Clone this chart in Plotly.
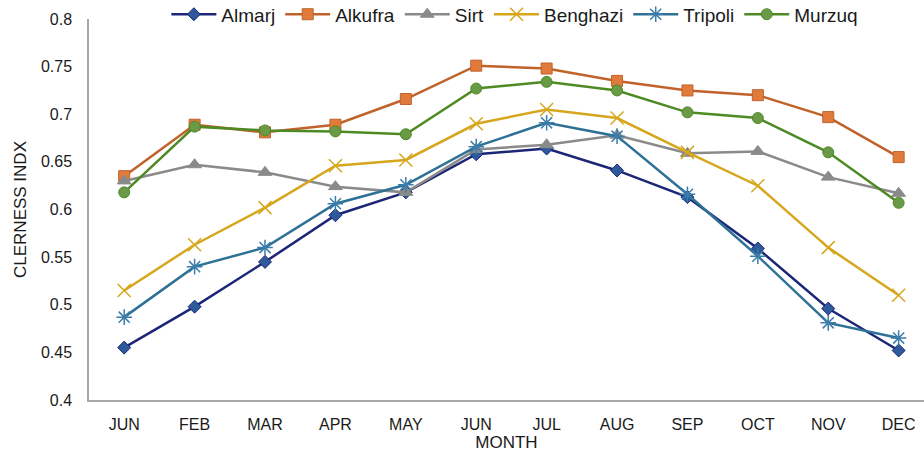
import plotly.graph_objects as go

months = ["JUN", "FEB", "MAR", "APR", "MAY", "JUN", "JUL", "AUG", "SEP", "OCT", "NOV", "DEC"]
x_pos = list(range(len(months)))

almarj = [0.455, 0.498, 0.545, 0.594, 0.618, 0.658, 0.664, 0.641, 0.613, 0.559, 0.496, 0.452]
alkufra = [0.635, 0.689, 0.681, 0.689, 0.716, 0.751, 0.748, 0.735, 0.725, 0.720, 0.697, 0.655]
sirt = [0.630, 0.647, 0.639, 0.624, 0.618, 0.663, 0.668, 0.678, 0.659, 0.661, 0.634, 0.617]
benghazi = [0.515, 0.563, 0.602, 0.646, 0.652, 0.690, 0.705, 0.696, 0.660, 0.625, 0.560, 0.510]
tripoli = [0.487, 0.540, 0.560, 0.606, 0.626, 0.666, 0.691, 0.677, 0.616, 0.551, 0.481, 0.465]
murzuq = [0.618, 0.687, 0.683, 0.682, 0.679, 0.727, 0.734, 0.725, 0.702, 0.696, 0.660, 0.607]

series = [
    ("Almarj", almarj, "#1C2677", "#2E5A9C", "diamond", 10),
    ("Alkufra", alkufra, "#C0622A", "#E07B3C", "square", 11),
    ("Sirt", sirt, "#8A8A8A", "#8A8A8A", "triangle-up", 12),
    ("Benghazi", benghazi, "#D6A61C", "#D6A61C", "x-thin-open", 13),
    ("Tripoli", tripoli, "#2F7196", "#3A7DAA", "asterisk-open", 13),
    ("Murzuq", murzuq, "#4E8A24", "#6A9A45", "circle", 11),
]

font_family = "Liberation Sans, Arial, sans-serif"
text_color = "#1a1a1a"

fig = go.Figure()
for name, vals, line_c, mark_c, sym, size in series:
    open_sym = sym.endswith("open")
    fig.add_trace(go.Scatter(
        x=x_pos, y=vals, name=name, mode="lines+markers",
        line=dict(color=line_c, width=2.5),
        marker=dict(symbol=sym, size=size, color=mark_c,
                    line=dict(color=line_c if not open_sym else mark_c,
                              width=1.5 if open_sym else 1)),
    ))

fig.update_layout(
    width=924, height=457,
    margin=dict(l=89, r=0, t=19, b=57, autoexpand=False),
    paper_bgcolor="white", plot_bgcolor="white",
    font=dict(family=font_family, color=text_color, size=15),
    showlegend=True,
    legend=dict(orientation="h", x=0.51, xanchor="center", y=1.062, yanchor="top",
                font=dict(size=19, family=font_family, color=text_color),
                bgcolor="rgba(255,255,255,0)", itemwidth=45, tracegroupgap=0),
    xaxis=dict(
        tickmode="array", tickvals=x_pos, ticktext=months,
        range=[-0.5, 11.36], showgrid=False, zeroline=False,
        showline=True, linecolor="#A6A6A6", linewidth=1.5,
        ticks="outside", ticklen=9, tickcolor="rgba(0,0,0,0)",
        tickfont=dict(size=16, family=font_family, color=text_color),
        title=dict(text="MONTH", font=dict(size=17, family=font_family, color=text_color), standoff=0),
    ),
    yaxis=dict(
        range=[0.4, 0.8], dtick=0.05, tick0=0.4, showgrid=False, zeroline=False,
        showline=True, linecolor="#A6A6A6", linewidth=1.5,
        ticks="outside", ticklen=12, tickcolor="rgba(0,0,0,0)",
        tickfont=dict(size=16, family=font_family, color=text_color),
        tickformat="~g",
        title=dict(text="CLERNESS INDX", font=dict(size=17, family=font_family, color=text_color), standoff=10),
    ),
)

fig.write_html("out.html")
